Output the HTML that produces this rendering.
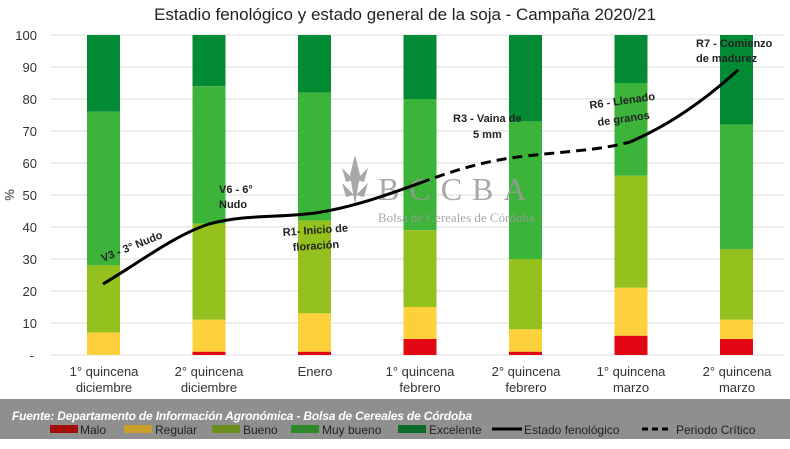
<!DOCTYPE html>
<html><head><meta charset="utf-8"><style>
body{margin:0;width:790px;height:444px;background:#fff;overflow:hidden;font-family:"Liberation Sans",sans-serif}
</style></head><body>
<svg width="790" height="444" xmlns="http://www.w3.org/2000/svg" font-family="Liberation Sans, sans-serif">
<text x="405" y="20" font-size="17" text-anchor="middle" fill="#222">Estadio fenológico y estado general de la soja - Campaña 2020/21</text>
<g stroke="#dcdcdc" stroke-width="1">
<line x1="50" x2="785" y1="35" y2="35"/><line x1="50" x2="785" y1="67" y2="67"/><line x1="50" x2="785" y1="99" y2="99"/><line x1="50" x2="785" y1="131" y2="131"/><line x1="50" x2="785" y1="163" y2="163"/><line x1="50" x2="785" y1="195" y2="195"/><line x1="50" x2="785" y1="227" y2="227"/><line x1="50" x2="785" y1="259" y2="259"/><line x1="50" x2="785" y1="291" y2="291"/><line x1="50" x2="785" y1="323" y2="323"/><line x1="50" x2="785" y1="355" y2="355"/>
</g>
<g font-size="13" fill="#333" text-anchor="end">
<text x="37" y="40">100</text><text x="37" y="72">90</text><text x="37" y="104">80</text><text x="37" y="136">70</text><text x="37" y="168">60</text><text x="37" y="200">50</text><text x="37" y="232">40</text><text x="37" y="264">30</text><text x="37" y="296">20</text><text x="37" y="328">10</text><text x="34" y="360">-</text>
</g>
<text x="14" y="195" font-size="13" fill="#333" transform="rotate(-90 14 195)" text-anchor="middle">%</text>
<g id="bars"></g>
<!-- bars: cum values -->
<g>
<!-- bar1 x=87 -->
<rect x="87" y="35" width="33" height="76.8" fill="#038a35"/><rect x="87" y="111.8" width="33" height="153.6" fill="#3cb43a"/><rect x="87" y="265.4" width="33" height="67.2" fill="#95c11f"/><rect x="87" y="332.6" width="33" height="22.4" fill="#fdd13b"/>
<!-- bar2 -->
<rect x="192.5" y="35" width="33" height="51.2" fill="#038a35"/><rect x="192.5" y="86.2" width="33" height="137.6" fill="#3cb43a"/><rect x="192.5" y="223.8" width="33" height="96" fill="#95c11f"/><rect x="192.5" y="319.8" width="33" height="32" fill="#fdd13b"/><rect x="192.5" y="351.8" width="33" height="3.2" fill="#e30613"/>
<!-- bar3 -->
<rect x="298" y="35" width="33" height="57.6" fill="#038a35"/><rect x="298" y="92.6" width="33" height="128" fill="#3cb43a"/><rect x="298" y="220.6" width="33" height="92.8" fill="#95c11f"/><rect x="298" y="313.4" width="33" height="38.4" fill="#fdd13b"/><rect x="298" y="351.8" width="33" height="3.2" fill="#e30613"/>
<!-- bar4 -->
<rect x="403.5" y="35" width="33" height="64" fill="#038a35"/><rect x="403.5" y="99" width="33" height="131.2" fill="#3cb43a"/><rect x="403.5" y="230.2" width="33" height="76.8" fill="#95c11f"/><rect x="403.5" y="307" width="33" height="32" fill="#fdd13b"/><rect x="403.5" y="339" width="33" height="16" fill="#e30613"/>
<!-- bar5 -->
<rect x="509" y="35" width="33" height="86.4" fill="#038a35"/><rect x="509" y="121.4" width="33" height="137.6" fill="#3cb43a"/><rect x="509" y="259" width="33" height="70.4" fill="#95c11f"/><rect x="509" y="329.4" width="33" height="22.4" fill="#fdd13b"/><rect x="509" y="351.8" width="33" height="3.2" fill="#e30613"/>
<!-- bar6 -->
<rect x="614.5" y="35" width="33" height="48" fill="#038a35"/><rect x="614.5" y="83" width="33" height="92.8" fill="#3cb43a"/><rect x="614.5" y="175.8" width="33" height="112" fill="#95c11f"/><rect x="614.5" y="287.8" width="33" height="48" fill="#fdd13b"/><rect x="614.5" y="335.8" width="33" height="19.2" fill="#e30613"/>
<!-- bar7 -->
<rect x="720" y="35" width="33" height="89.6" fill="#038a35"/><rect x="720" y="124.6" width="33" height="124.8" fill="#3cb43a"/><rect x="720" y="249.4" width="33" height="70.4" fill="#95c11f"/><rect x="720" y="319.8" width="33" height="19.2" fill="#fdd13b"/><rect x="720" y="339" width="33" height="16" fill="#e30613"/>
</g>
<!-- watermark -->
<g fill="#9a9a9a" opacity="0.85">
<path d="M355 155 L360 175 L355 205 L350 175 Z" />
<path d="M354 180 L342 168 L346 182 Z M356 180 L368 168 L364 182 Z M354 195 L342 183 L346 197 Z M356 195 L368 183 L364 197 Z"/>
<text x="378" y="200" font-family="Liberation Serif, serif" font-size="32" letter-spacing="10">BCCBA</text>
<text x="378" y="222" font-family="Liberation Serif, serif" font-size="13">Bolsa de Cereales de Córdoba</text>
</g>
<path d="M103 284 C140 262 175 235 209 224 C245 214 280 218 315 213 C355 207 395 192 420 183" fill="none" stroke="#000" stroke-width="3"/>
<path d="M420 183 C460 168 490 160 526 156 C570 151 600 150 630 142" fill="none" stroke="#000" stroke-width="3" stroke-dasharray="10,6"/>
<path d="M630 142 C670 125 705 100 738 70" fill="none" stroke="#000" stroke-width="3"/>
<g font-size="11" font-weight="bold" fill="#222">
<text x="103" y="262" transform="rotate(-22 103 262)">V3 - 3° Nudo</text>
<text x="219" y="193">V6 - 6°</text><text x="219" y="208">Nudo</text>
<text x="283" y="236" transform="rotate(-4 283 236)">R1- Inicio de</text><text x="293" y="251" transform="rotate(-4 293 251)">floración</text>
<text x="453" y="122">R3 - Vaina de</text><text x="473" y="138">5 mm</text>
<text x="590" y="109" transform="rotate(-8 590 109)">R6 - Llenado</text><text x="598" y="126" transform="rotate(-8 598 126)">de granos</text>
<text x="696" y="47">R7 - Comienzo</text><text x="696" y="62">de madurez</text>
</g>
<g font-size="13" fill="#333" text-anchor="middle">
<text x="104" y="376">1° quincena</text><text x="104" y="392">diciembre</text>
<text x="209" y="376">2° quincena</text><text x="209" y="392">diciembre</text>
<text x="315" y="376">Enero</text>
<text x="420" y="376">1° quincena</text><text x="420" y="392">febrero</text>
<text x="526" y="376">2° quincena</text><text x="526" y="392">febrero</text>
<text x="631" y="376">1° quincena</text><text x="631" y="392">marzo</text>
<text x="737" y="376">2° quincena</text><text x="737" y="392">marzo</text>
</g>
<rect x="0" y="399" width="790" height="40" fill="#8f8f8f"/>
<g font-size="12" fill="#222">
<rect x="50" y="425" width="28" height="8" fill="#a50d0d"/><text x="80" y="434">Malo</text>
<rect x="124" y="425" width="28" height="8" fill="#c8a02a"/><text x="155" y="434">Regular</text>
<rect x="212" y="425" width="28" height="8" fill="#6a8e1c"/><text x="243" y="434">Bueno</text>
<rect x="291" y="425" width="28" height="8" fill="#2f8a2c"/><text x="322" y="434">Muy bueno</text>
<rect x="398" y="425" width="28" height="8" fill="#0c6a2a"/><text x="429" y="434">Excelente</text>
<line x1="492" x2="522" y1="429" y2="429" stroke="#000" stroke-width="3"/><text x="524" y="434">Estado fenológico</text>
<line x1="642" x2="672" y1="429" y2="429" stroke="#000" stroke-width="3" stroke-dasharray="6,4"/><text x="676" y="434">Periodo Crítico</text>
</g>
<text x="12" y="420" font-size="12" font-style="italic" font-weight="bold" fill="#fff" textLength="460">Fuente: Departamento de Información Agronómica - Bolsa de Cereales de Córdoba</text>
</svg>
</body></html>
